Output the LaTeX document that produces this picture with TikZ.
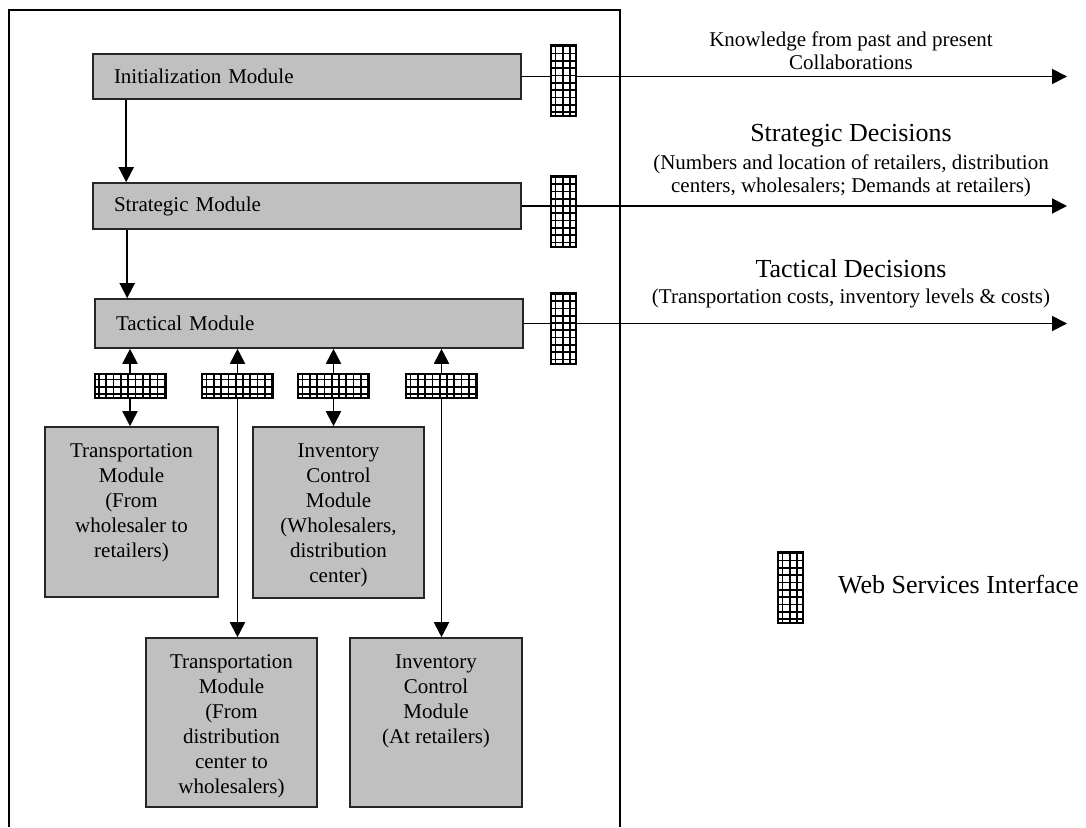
\documentclass[tikz,border=0pt]{standalone}
\usepackage{fontspec}
\setmainfont{Liberation Serif}
\usetikzlibrary{arrows.meta,calc}
\definecolor{boxgray}{RGB}{192,192,192}
\tikzset{
  line/.style={line width=1.9pt, draw=black},
  arr/.style={line, -{Triangle[length=15pt,width=15pt]}},
  frame/.style={line width=1.6pt, draw=black},
  bar/.style={draw=black!85, line width=1.6pt, fill=boxgray, inner xsep=21pt, inner ysep=0pt,
    text width=386pt, align=left, font=\fontsize{21}{25}\selectfont},
  mod/.style={draw=black!85, line width=1.6pt, fill=boxgray, inner sep=0pt},
  modtext/.style={align=center, inner sep=0pt, font=\fontsize{21}{25}\selectfont},
  note/.style={align=center, inner sep=0pt, font=\fontsize{21}{23}\selectfont},
  head/.style={align=center, inner sep=0pt, font=\fontsize{26}{30}\selectfont},
  gridlines/.style={path picture={
    \foreach \k in {0,...,12}{
      \draw[line width=1.7pt] ([xshift=\k*7.3pt+4.5pt]path picture bounding box.south west)
        -- ([xshift=\k*7.3pt+4.5pt]path picture bounding box.north west);
      \draw[line width=1.7pt] ([yshift=\k*7.3pt+4pt]path picture bounding box.south west)
        -- ([yshift=\k*7.3pt+4pt]path picture bounding box.south east);
    }}},
  wsv/.style={draw=black, line width=2pt, fill=white, inner sep=0pt,
    minimum width=25pt, minimum height=71pt, gridlines},
  wsh/.style={draw=black, line width=2pt, fill=white, inner sep=0pt,
    minimum width=71pt, minimum height=24pt, gridlines},
}
\begin{document}
\begin{tikzpicture}[x=1pt,y=-1pt]
\useasboundingbox (0,0) rectangle (1086,827);

% system boundary
\draw[frame] (9,827) -- (9,10) -- (620,10) -- (620,827);

% main modules
\node[bar, minimum height=45pt] (init)  at (307,76.5)  {Initialization Module};
\node[bar, minimum height=46pt] (strat) at (307,206)   {Strategic Module};
\node[bar, minimum height=49pt] (tact)  at (309,323.5) {Tactical Module};

% web service interfaces of the main modules
\node[wsv] (w1) at (563.5,80.5) {};
\node[wsv] (w2) at (563.5,211)  {};
\node[wsv] (w3) at (563.5,328)  {};

% outputs
\coordinate (o1) at (1067,76.5);
\coordinate (o2) at (1067,206);
\coordinate (o3) at (1067,323.5);

\draw[line] (init.east)  -- (init.east -| w1.west);
\draw[arr]  (w1.east |- o1) -- (o1);
\draw[line] (strat.east) -- (strat.east -| w2.west);
\draw[arr]  (w2.east |- o2) -- (o2);
\draw[line] (tact.east)  -- (tact.east -| w3.west);
\draw[arr]  (w3.east |- o3) -- (o3);

\node[note] (kn)  at (851,50.5)  {Knowledge from past and present\\Collaborations};
\node[head] (sd)  at (851,136)   {Strategic Decisions};
\node[note] (sdn) at (851,175.5) {(Numbers and location of retailers, distribution\\centers, wholesalers; Demands at retailers)};
\node[head] (td)  at (851,269)   {Tactical Decisions};
\node[note] (tdn) at (851,298)   {(Transportation costs, inventory levels \& costs)};

% module chain
\draw[arr] ([xshift=34pt]init.south west) -- ([xshift=34pt]init.south west |- strat.north);
\draw[arr] ([xshift=35pt]strat.south west) -- ([xshift=35pt]strat.south west |- tact.north);

% operational modules
\node[mod, minimum width=173pt, minimum height=170pt] (t1) at (131.5,512)   {};
\node[mod, minimum width=171pt, minimum height=171pt] (i1) at (338.5,512.5) {};
\node[mod, minimum width=171pt, minimum height=169pt] (t2) at (231.5,722.5) {};
\node[mod, minimum width=172pt, minimum height=169pt] (i2) at (436,722.5)   {};

\node[modtext, anchor=north] (t1t) at ([yshift=-17pt]t1.north) {Transportation\\Module\\(From\\wholesaler to\\retailers)};
\node[modtext, anchor=north] (i1t) at ([yshift=-17pt]i1.north) {Inventory\\Control\\Module\\(Wholesalers,\\distribution\\center)};
\node[modtext, anchor=north] (t2t) at ([yshift=-17pt]t2.north) {Transportation\\Module\\(From\\distribution\\center to\\wholesalers)};
\node[modtext, anchor=north] (i2t) at ([yshift=-17pt]i2.north) {Inventory\\Control\\Module\\(At retailers)};

% web service interfaces of the operational modules
\node[wsh] (ga) at (130,386)   {};
\node[wsh] (gb) at (237.5,386) {};
\node[wsh] (gc) at (333.5,386) {};
\node[wsh] (gd) at (441.5,386) {};

\draw[arr] (ga.north) -- (ga.north |- tact.south);
\draw[arr] (ga.south) -- (ga.south |- t1.north);
\draw[arr] (gb.north) -- (gb.north |- tact.south);
\draw[arr] (gb.south) -- (gb.south |- t2.north);
\draw[arr] (gc.north) -- (gc.north |- tact.south);
\draw[arr] (gc.south) -- (gc.south |- i1.north);
\draw[arr] (gd.north) -- (gd.north |- tact.south);
\draw[arr] (gd.south) -- (gd.south |- i2.north);

% legend
\node[wsv] (wl) at (790.5,587.5) {};
\node[head, anchor=west] (wlt) at (838,585) {Web Services Interface};
\end{tikzpicture}
\end{document}
